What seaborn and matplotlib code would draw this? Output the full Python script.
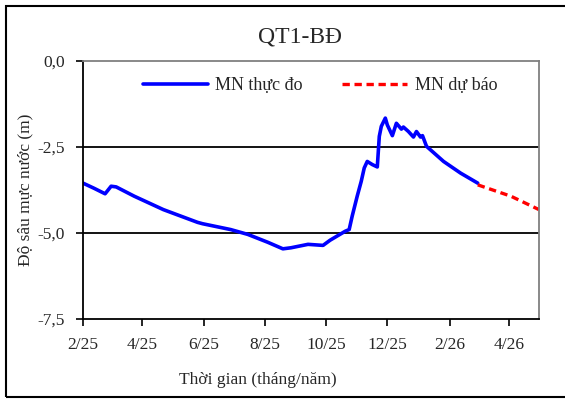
import pandas as pd
import seaborn as sns
import matplotlib.pyplot as plt
import matplotlib.dates as mdates
from matplotlib.patches import Rectangle
from matplotlib.ticker import FuncFormatter

# observed water level (depth, m)
obs_dates = ['2025-02-01', '2025-02-12', '2025-02-23', '2025-03-01', '2025-03-06', '2025-03-24',
             '2025-04-22', '2025-05-26', '2025-05-31', '2025-06-28', '2025-07-15', '2025-08-04',
             '2025-08-19', '2025-08-27', '2025-09-13', '2025-09-28', '2025-10-05', '2025-10-20',
             '2025-10-24', '2025-10-27', '2025-11-01', '2025-11-05', '2025-11-08', '2025-11-11',
             '2025-11-16', '2025-11-21', '2025-11-23', '2025-11-25', '2025-11-29', '2025-12-01',
             '2025-12-06', '2025-12-10', '2025-12-15', '2025-12-17', '2025-12-22', '2025-12-27',
             '2025-12-30', '2026-01-03', '2026-01-05', '2026-01-09', '2026-01-26', '2026-02-12',
             '2026-03-01']
obs_depth = [-3.55, -3.70, -3.86, -3.64, -3.66, -3.93,
             -4.32, -4.69, -4.73, -4.90, -5.04, -5.27,
             -5.46, -5.43, -5.33, -5.36, -5.21, -4.95,
             -4.90, -4.51, -3.93, -3.50, -3.11, -2.92,
             -3.01, -3.08, -2.19, -1.90, -1.66, -1.86,
             -2.17, -1.81, -1.98, -1.92, -2.05, -2.21,
             -2.05, -2.21, -2.17, -2.48, -2.92, -3.26,
             -3.55]

# forecast
fc_dates = ['2026-03-01', '2026-04-03', '2026-05-01']
fc_depth = [-3.60, -3.93, -4.32]

x_ticks = ['2025-02-01', '2025-04-01', '2025-06-01', '2025-08-01', '2025-10-01',
           '2025-12-01', '2026-02-01', '2026-04-01']
y_ticks = [0, -2.5, -5, -7.5]

obs = pd.DataFrame({'date': pd.to_datetime(obs_dates), 'depth': obs_depth})
fc = pd.DataFrame({'date': pd.to_datetime(fc_dates), 'depth': fc_depth})

sns.set_style('white')
plt.rcParams['font.family'] = ['Liberation Serif', 'DejaVu Serif']

fig = plt.figure(figsize=(5.65, 4.01), dpi=100)
ax = fig.add_axes([83 / 565, 82 / 401, 456 / 565, 258 / 401])

sns.lineplot(data=obs, x='date', y='depth', ax=ax, color='#0000ff', lw=2.6, label='MN thực đo')
sns.lineplot(data=fc, x='date', y='depth', ax=ax, color='#ff0000', lw=2.4,
             linestyle=(0, (2.2, 1.4)), label='MN dự báo')

ax.set_xlim(pd.Timestamp('2025-02-01'), pd.Timestamp('2026-05-01'))
ax.set_ylim(-7.5, 0)
ax.set_xticks(pd.to_datetime(x_ticks))
ax.xaxis.set_major_formatter(FuncFormatter(
    lambda v, p: f"{mdates.num2date(v).month}/{mdates.num2date(v).year % 100}"))
ax.set_yticks(y_ticks)
ax.yaxis.set_major_formatter(FuncFormatter(lambda v, p: f"{v:.1f}".replace('.', ',')))
ax.tick_params(axis='both', direction='out', length=5, width=1.2, color='black',
               labelsize=12.5, pad=8, bottom=True, left=True)
for v in [-2.5, -5]:
    ax.axhline(v, color='black', lw=1.3, zorder=0)

for s in ['left', 'bottom']:
    ax.spines[s].set_color('black')
    ax.spines[s].set_linewidth(1.3)
for s in ['top', 'right']:
    ax.spines[s].set_color('#808080')
    ax.spines[s].set_linewidth(1.3)

ax.set_xlabel('')
ax.set_ylabel('')
fig.text(25 / 565, 1 - 190 / 401, 'Độ sâu mực nước (m)', rotation=90,
         ha='center', va='center', fontsize=12.5)
fig.text(258 / 565, 1 - 380 / 401, 'Thời gian (tháng/năm)', ha='center', va='center', fontsize=12.5)
fig.text(300 / 565, 1 - 37 / 401, 'QT1-BĐ', ha='center', va='center', fontsize=17)

ax.legend(loc='center', bbox_to_anchor=(0.52, 0.905), ncol=2, frameon=False,
          fontsize=13, handlelength=3.6, columnspacing=2.2, handletextpad=0.4)

fig.patches.append(Rectangle((6 / 565, 4 / 401), 1.0, 391 / 401, transform=fig.transFigure,
                             fill=False, edgecolor='black', lw=1.5))

fig.savefig('out.png', dpi=100)
